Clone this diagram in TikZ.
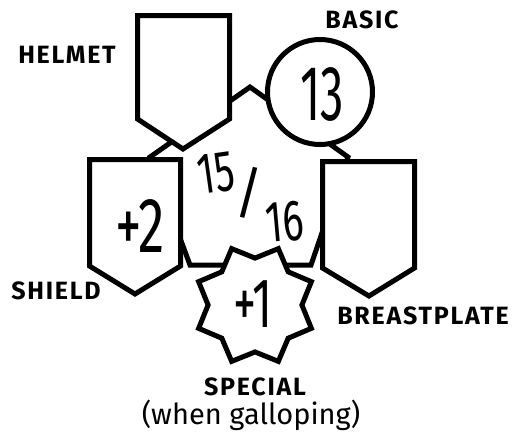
\documentclass[tikz,border=0pt]{standalone}
\usepackage{fontspec}
\setmainfont{Fira Sans}
\newfontfamily\labelfont{Fira Sans}[LetterSpace=7]
\newfontfamily\numfont{Fira Sans}
\usetikzlibrary{shapes.geometric}
\begin{document}
\begin{tikzpicture}[x=1pt,y=-1pt,
  shapeline/.style={draw=black,line width=5pt,fill=white,line join=miter},
  lbl/.style={font=\labelfont\bfseries\fontsize{25}{25}\selectfont,inner sep=0pt,anchor=center},
  num/.style={font=\numfont\fontsize{#1}{#1}\selectfont,inner sep=0pt,anchor=center},
  sub/.style={font=\numfont\fontsize{29}{29}\selectfont,inner sep=0pt,anchor=center}]
\useasboundingbox[fill=white] (0,0) rectangle (514,437);
% central pentagon
\draw[shapeline] (250,87) -- (348,157) -- (311,265) -- (190,265) -- (150,157) -- cycle;
% helmet
\draw[shapeline] (137.5,15.5) -- (229.5,15.5) -- (229.5,119) -- (183,149) -- (137.5,119) -- cycle;
% shield
\draw[shapeline] (89.5,159.5) -- (180.5,159.5) -- (180.5,266) -- (135,294) -- (89.5,266) -- cycle;
% breastplate
\draw[shapeline] (322.5,161.5) -- (414.5,161.5) -- (414.5,268) -- (369,296) -- (322.5,268) -- cycle;
% basic circle
\draw[shapeline] (320,92) circle[radius=52.5];
% special star
\node[star,star points=8,star point ratio=1.3,minimum size=122pt,inner sep=0pt,outer sep=0pt,
      shape border rotate=22.5,shapeline] (star) at (255,305) {};
% numbers
\node[num=78] (n13) at (322,94) {\scalebox{0.6}[1]{13}};
\node[num=78] (n2) at (140,226) {\scalebox{0.68}[1]{+2}};
\node[num=70] (n1) at (253,304) {\scalebox{0.66}[1]{+1}};
\node[num=58,rotate=8] (n15) at (216,173) {\scalebox{0.68}[1]{15}};
\node[num=56] (nsl) at (249,193) {/};
\node[num=58,rotate=5] (n16) at (285,222) {\scalebox{0.68}[1]{16}};
% labels
\node[lbl] (helmet) at (67,55) {HELMET};
\node[lbl] (basic) at (362,20) {BASIC};
\node[lbl] (shieldl) at (56,291) {SHIELD};
\node[lbl] (breast) at (423,316) {BREASTPLATE};
\node[lbl] (special) at (255,387) {SPECIAL};
\node[sub] (gallop) at (251,415) {(when galloping)};
\end{tikzpicture}
\end{document}
